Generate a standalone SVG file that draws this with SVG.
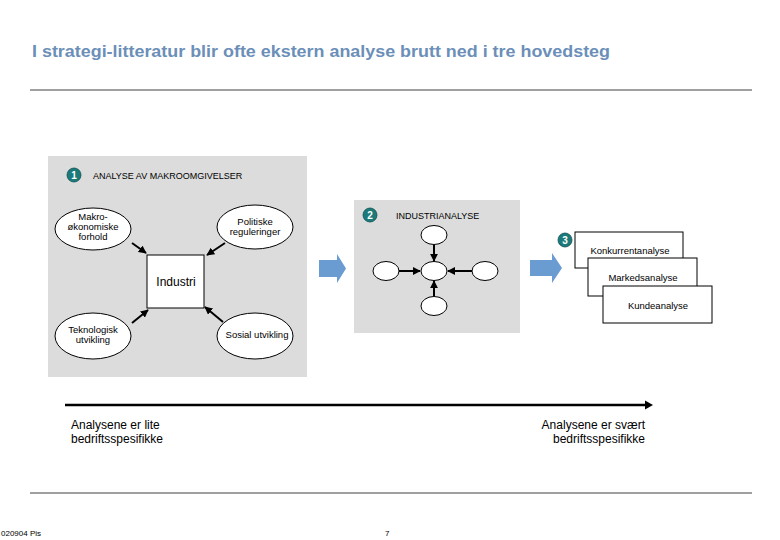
<svg xmlns="http://www.w3.org/2000/svg" width="780" height="540" viewBox="0 0 780 540">
<style>
text{font-family:"Liberation Sans",Arial,sans-serif;fill:#000}
.sm{font-size:9px}
.lbl{font-size:9.5px}
.big{font-size:12px}
.panel{fill:#dcdcdc}
.ell{fill:#fff;stroke:#000;stroke-width:1}
.box{fill:#fff;stroke:#000;stroke-width:1}
.num{fill:#1d7a7a;stroke:#0f5050;stroke-width:0.8}
.numt{font-size:10px;fill:#fff;font-weight:bold}
.con{stroke:#000;stroke-width:2;fill:none;marker-end:url(#ah)}
.blue{fill:#6a9bd1}
.rule{stroke:#a0a0a0;stroke-width:2}
</style>
<defs>
<marker id="ah" viewBox="0 0 10 10" refX="9" refY="5" markerWidth="4" markerHeight="4" orient="auto" markerUnits="strokeWidth">
<path d="M0,0 L10,5 L0,10 z" fill="#000"/>
</marker>
</defs>
<rect width="780" height="540" fill="#fff"/>
<text x="32" y="57" style="font-size:17px;font-weight:bold;fill:#6b8fb8" textLength="578" lengthAdjust="spacingAndGlyphs">I strategi-litteratur blir ofte ekstern analyse brutt ned i tre hovedsteg</text>
<line class="rule" x1="30" y1="90" x2="752" y2="90"/>

<g id="panel1">
<rect class="panel" x="48" y="156" width="259" height="221"/>
<circle class="num" cx="74" cy="175" r="7"/>
<text class="numt" x="74" y="179" text-anchor="middle">1</text>
<text class="sm" x="93" y="179">ANALYSE AV MAKROOMGIVELSER</text>
</g>
<g id="makro">
<ellipse class="ell" cx="93" cy="229" rx="38" ry="21"/>
<text class="lbl" x="93" y="220" text-anchor="middle">Makro-</text>
<text class="lbl" x="93" y="230" text-anchor="middle">økonomiske</text>
<text class="lbl" x="93" y="240" text-anchor="middle">forhold</text>
</g>
<g id="politiske">
<ellipse class="ell" cx="255" cy="227" rx="38" ry="22"/>
<text class="lbl" x="255" y="225" text-anchor="middle">Politiske</text>
<text class="lbl" x="255" y="235" text-anchor="middle">reguleringer</text>
</g>
<g id="industri">
<rect class="box" x="147" y="255" width="57" height="53"/>
<text class="big" x="176" y="286" text-anchor="middle">Industri</text>
</g>
<g id="teknologisk">
<ellipse class="ell" cx="93" cy="336" rx="38" ry="23"/>
<text class="lbl" x="93" y="333" text-anchor="middle">Teknologisk</text>
<text class="lbl" x="93" y="343" text-anchor="middle">utvikling</text>
</g>
<g id="sosial">
<ellipse class="ell" cx="255" cy="336" rx="38" ry="23"/>
<text class="lbl" x="257" y="338" text-anchor="middle">Sosial utvikling</text>
</g>

<g id="panel2">
<rect class="panel" x="354" y="200" width="166" height="133"/>
<circle class="num" cx="370" cy="215" r="7"/>
<text class="numt" x="370" y="219" text-anchor="middle">2</text>
<text class="sm" x="396" y="219">INDUSTRIANALYSE</text>
</g>
<g id="n-center"><ellipse class="ell" cx="434" cy="271" rx="13" ry="9.5"/></g>
<g id="n-top"><ellipse class="ell" cx="434" cy="235" rx="13" ry="9.5"/></g>
<g id="n-left"><ellipse class="ell" cx="386" cy="271" rx="13" ry="9.5"/></g>
<g id="n-right"><ellipse class="ell" cx="485" cy="271" rx="13" ry="9.5"/></g>
<g id="n-bottom"><ellipse class="ell" cx="434" cy="306" rx="13" ry="9.5"/></g>

<g id="panel3">
<circle class="num" cx="565" cy="240" r="7"/>
<text class="numt" x="565" y="244" text-anchor="middle">3</text>
</g>
<g id="konkurrent">
<rect class="box" x="575" y="232" width="108" height="36"/>
<text class="lbl" x="630" y="254" text-anchor="middle">Konkurrentanalyse</text>
</g>
<g id="markeds">
<rect class="box" x="588" y="258" width="109" height="38"/>
<text class="lbl" x="643" y="281" text-anchor="middle">Markedsanalyse</text>
</g>
<g id="kunde">
<rect class="box" x="603" y="286" width="109" height="37"/>
<text class="lbl" x="658" y="309" text-anchor="middle">Kundeanalyse</text>
</g>

<g id="connectors">
<line class="con" x1="132" y1="243" x2="146" y2="253"/>
<line class="con" x1="225" y1="243" x2="207" y2="255"/>
<line class="con" x1="132" y1="323" x2="148" y2="310"/>
<line class="con" x1="223" y1="322" x2="205" y2="307"/>
<line class="con" x1="434" y1="245" x2="434" y2="261"/>
<line class="con" x1="399" y1="271" x2="420" y2="271"/>
<line class="con" x1="472" y1="271" x2="448" y2="271"/>
<line class="con" x1="434" y1="296" x2="434" y2="281"/>
<path class="blue" d="M319,260 L337,260 L337,254 L346,268.5 L337,283 L337,277 L319,277 z"/>
<path class="blue" d="M530,260 L552,260 L552,253 L562,268 L552,283 L552,276 L530,276 z"/>
<line x1="65" y1="405" x2="646" y2="405" stroke="#000" stroke-width="2.5"/>
<path d="M645,400.5 L653,405 L645,409.5 z" fill="#000"/>
</g>

<text class="big" x="71" y="429">Analysene er lite</text>
<text class="big" x="71" y="443">bedriftsspesifikke</text>
<text class="big" x="645" y="429" text-anchor="end">Analysene er svært</text>
<text class="big" x="645" y="443" text-anchor="end">bedriftsspesifikke</text>

<line class="rule" x1="30" y1="493" x2="752" y2="493"/>
<text x="1" y="536" style="font-size:8px">020904 Pis</text>
<text x="385" y="536" style="font-size:8px">7</text>
</svg>
